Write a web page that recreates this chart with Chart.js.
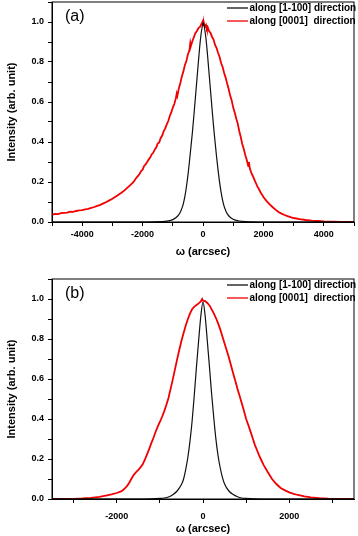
<!DOCTYPE html>
<html>
<head>
<meta charset="utf-8">
<script src="https://cdn.jsdelivr.net/npm/chart.js@4.4.1/dist/chart.umd.min.js"></script>
<style>
  html, body { margin: 0; padding: 0; background: #fff; }
  #wrap { position: relative; width: 358px; height: 536px; }
  .panel { position: absolute; left: 0; width: 358px; height: 268px; }
</style>
</head>
<body>
<div id="wrap">
  <div class="panel" style="top:0"><canvas id="chartA" width="358" height="268"></canvas></div>
  <div class="panel" style="top:268px"><canvas id="chartB" width="358" height="268"></canvas></div>
</div>
<script>
const legendLabels = ['along [1-100] direction', 'along [0001]  direction'];
const yTicks = [0, 0.1, 0.2, 0.3, 0.4, 0.5, 0.6, 0.7, 0.8, 0.9, 1.0, 1.1];

// panel (a)
const aXRange = [-5000, 5000];
const aXTicks = [-5000, -4000, -3000, -2000, -1000, 0, 1000, 2000, 3000, 4000, 5000];
const aBlackX = [-5000, -2000, -1600, -1400, -1200, -1100, -1000, -900, -800, -750, -700, -650, -600, -550, -500, -450, -400, -350, -300, -250, -200, -150, -100, -50, 0, 20, 50, 100, 150, 200, 250, 300, 350, 400, 450, 500, 550, 600, 650, 700, 750, 800, 900, 1000, 1100, 1200, 1400, 1600, 2000, 5000];
const aBlackY = [0, 0, 0.001, 0.002, 0.004, 0.007, 0.012, 0.021, 0.037, 0.05, 0.068, 0.092, 0.128, 0.175, 0.232, 0.3, 0.375, 0.45, 0.535, 0.625, 0.715, 0.805, 0.89, 0.955, 0.992, 0.995, 0.97, 0.915, 0.835, 0.745, 0.655, 0.565, 0.478, 0.4, 0.325, 0.258, 0.198, 0.148, 0.108, 0.078, 0.058, 0.042, 0.024, 0.014, 0.008, 0.005, 0.002, 0.001, 0, 0];
const aRedX = [-5000, -4900, -4800, -4700, -4600, -4500, -4400, -4300, -4200, -4100, -4000, -3900, -3800, -3700, -3600, -3500, -3400, -3300, -3200, -3100, -3000, -2900, -2800, -2700, -2600, -2500, -2400, -2300, -2200, -2100, -2050, -2000, -1950, -1900, -1850, -1800, -1750, -1700, -1650, -1600, -1550, -1500, -1450, -1400, -1350, -1300, -1250, -1200, -1150, -1100, -1050, -1000, -950, -900, -870, -850, -800, -750, -700, -650, -600, -550, -500, -450, -420, -400, -350, -300, -250, -200, -150, -100, -50, -20, 0, 30, 60, 100, 130, 160, 200, 250, 300, 350, 400, 450, 500, 550, 600, 650, 700, 750, 800, 850, 900, 950, 1000, 1050, 1100, 1150, 1200, 1250, 1300, 1350, 1400, 1450, 1500, 1520, 1550, 1600, 1650, 1700, 1750, 1800, 1850, 1900, 1950, 2000, 2100, 2200, 2300, 2400, 2500, 2600, 2700, 2800, 2900, 3000, 3200, 3400, 3600, 3800, 4000, 4300, 4600, 5000];
const aRedY = [0.037, 0.040, 0.039, 0.044, 0.046, 0.047, 0.052, 0.051, 0.055, 0.058, 0.059, 0.063, 0.066, 0.071, 0.075, 0.081, 0.086, 0.093, 0.100, 0.108, 0.116, 0.126, 0.136, 0.146, 0.158, 0.172, 0.186, 0.200, 0.222, 0.240, 0.255, 0.262, 0.280, 0.288, 0.300, 0.312, 0.322, 0.338, 0.346, 0.362, 0.372, 0.392, 0.398, 0.420, 0.432, 0.455, 0.468, 0.488, 0.505, 0.530, 0.548, 0.572, 0.590, 0.618, 0.642, 0.630, 0.668, 0.695, 0.728, 0.752, 0.785, 0.805, 0.838, 0.858, 0.895, 0.880, 0.905, 0.925, 0.945, 0.955, 0.970, 0.975, 0.990, 1.000, 0.985, 0.995, 0.975, 0.985, 0.965, 0.972, 0.955, 0.945, 0.925, 0.912, 0.885, 0.870, 0.845, 0.825, 0.795, 0.775, 0.745, 0.722, 0.692, 0.665, 0.632, 0.608, 0.572, 0.548, 0.518, 0.492, 0.455, 0.425, 0.390, 0.365, 0.335, 0.310, 0.280, 0.300, 0.268, 0.245, 0.230, 0.212, 0.195, 0.178, 0.165, 0.150, 0.138, 0.125, 0.106, 0.089, 0.075, 0.062, 0.050, 0.042, 0.035, 0.029, 0.024, 0.020, 0.014, 0.010, 0.007, 0.005, 0.003, 0.002, 0.001, 0];

// panel (b)
const bXRange = [-3500, 3500];
const bXTicks = [-3000, -2000, -1000, 0, 1000, 2000, 3000];
const bBlackX = [-3500, -1500, -1200, -1000, -900, -800, -700, -600, -500, -450, -400, -350, -300, -250, -200, -150, -100, -50, 0, 50, 100, 150, 200, 250, 300, 350, 400, 450, 500, 600, 700, 800, 900, 1000, 1200, 1500, 3500];
const bBlackY = [0, 0, 0.001, 0.003, 0.005, 0.01, 0.021, 0.04, 0.072, 0.1, 0.148, 0.21, 0.292, 0.395, 0.525, 0.665, 0.795, 0.915, 0.985, 0.915, 0.79, 0.66, 0.525, 0.405, 0.298, 0.215, 0.155, 0.108, 0.075, 0.04, 0.022, 0.011, 0.005, 0.003, 0.001, 0, 0];
const bRedX = [-3500, -3200, -3000, -2800, -2600, -2400, -2200, -2100, -2000, -1900, -1850, -1800, -1750, -1700, -1650, -1600, -1550, -1500, -1450, -1400, -1350, -1300, -1250, -1200, -1150, -1100, -1050, -1000, -950, -900, -850, -800, -750, -700, -650, -600, -550, -500, -450, -400, -350, -300, -250, -200, -150, -100, -50, -20, 0, 50, 100, 150, 200, 250, 300, 350, 400, 450, 500, 550, 600, 650, 700, 750, 800, 850, 900, 950, 1000, 1050, 1100, 1150, 1200, 1250, 1300, 1350, 1400, 1500, 1600, 1700, 1800, 1900, 2000, 2100, 2200, 2350, 2500, 2700, 2900, 3100, 3500];
const bRedY = [0, 0, 0.001, 0.003, 0.006, 0.011, 0.019, 0.024, 0.030, 0.038, 0.045, 0.055, 0.068, 0.085, 0.105, 0.122, 0.135, 0.145, 0.158, 0.172, 0.195, 0.222, 0.248, 0.278, 0.305, 0.335, 0.362, 0.385, 0.410, 0.438, 0.470, 0.505, 0.552, 0.598, 0.648, 0.698, 0.745, 0.790, 0.830, 0.868, 0.900, 0.928, 0.950, 0.962, 0.970, 0.978, 0.988, 1.000, 0.992, 0.990, 0.980, 0.968, 0.948, 0.928, 0.905, 0.878, 0.848, 0.812, 0.778, 0.742, 0.708, 0.668, 0.628, 0.590, 0.550, 0.515, 0.478, 0.440, 0.400, 0.370, 0.338, 0.305, 0.272, 0.245, 0.218, 0.195, 0.172, 0.135, 0.100, 0.075, 0.055, 0.043, 0.033, 0.026, 0.020, 0.013, 0.008, 0.004, 0.002, 0.001, 0];

const fontFamily = '"Liberation Sans", Arial, Helvetica, sans-serif';

function toPoints(xs, ys) {
  return xs.map((x, i) => ({ x: x, y: ys[i] }));
}

const framePlugin = {
  id: 'frame',
  afterDraw(chart, args, opts) {
    const { ctx, chartArea: a } = chart;
    ctx.save();
    ctx.strokeStyle = '#000';
    ctx.lineWidth = 1;
    ctx.strokeRect(a.left, a.top, a.right - a.left, a.bottom - a.top);

    ctx.fillStyle = '#000';
    ctx.font = '16px ' + fontFamily;
    ctx.textBaseline = 'middle';
    ctx.textAlign = 'left';
    ctx.fillText(opts.label, a.left + 13, a.top + 15);

    ctx.font = 'bold 10px ' + fontFamily;
    chart.data.datasets.forEach((ds, i) => {
      const y = a.top + 6 + i * 13;
      ctx.strokeStyle = ds.borderColor;
      ctx.lineWidth = 1.3;
      ctx.beginPath();
      ctx.moveTo(a.right - 127, y);
      ctx.lineTo(a.right - 106, y);
      ctx.stroke();
      ctx.fillText(ds.label, a.right - 104.5, y + 0.5);
    });
    ctx.restore();
  }
};

function makePanel(id, label, xRange, xTicks, blackX, blackY, redX, redY, padTop, xHeight, xTickPad, xTitlePad) {
  return new Chart(document.getElementById(id), {
    type: 'line',
    data: {
      datasets: [
        {
          label: legendLabels[0],
          data: toPoints(blackX, blackY),
          borderColor: '#111111',
          borderWidth: 1.2,
          pointRadius: 0,
          cubicInterpolationMode: 'monotone'
        },
        {
          label: legendLabels[1],
          data: toPoints(redX, redY),
          borderColor: '#f00000',
          borderWidth: 1.8,
          pointRadius: 0,
          tension: 0
        }
      ]
    },
    options: {
      responsive: false,
      animation: false,
      layout: { padding: { top: padTop, right: 4, left: 0, bottom: 0 } },
      plugins: {
        legend: { display: false },
        tooltip: { enabled: false },
        frame: { label: label }
      },
      scales: {
        x: {
          type: 'linear',
          min: xRange[0],
          max: xRange[1],
          border: { display: true, color: '#000', width: 1 },
          grid: { drawOnChartArea: false, drawTicks: true, tickLength: 4, color: '#000' },
          afterBuildTicks: (scale) => { scale.ticks = xTicks.map((v) => ({ value: v })); },
          ticks: {
            autoSkip: false,
            maxRotation: 0,
            padding: xTickPad,
            color: '#000',
            font: { family: fontFamily, size: 9, weight: 'bold' },
            callback: (v) => (v % 2000 === 0 && Math.abs(v) < xRange[1]) ? String(v) : ''
          },
          title: {
            display: true,
            text: 'ω (arcsec)',
            color: '#000',
            font: { family: fontFamily, size: 11, weight: 'bold' },
            padding: { top: 0, bottom: xTitlePad }
          },
          afterFit: (scale) => {
            scale.height = xHeight;
            scale.paddingLeft = 0;
            scale.paddingRight = 0;
          }
        },
        y: {
          min: yTicks[0],
          max: yTicks[yTicks.length - 1],
          border: { display: true, color: '#000', width: 1 },
          grid: { drawOnChartArea: false, drawTicks: true, tickLength: 4, color: '#000' },
          afterBuildTicks: (scale) => { scale.ticks = yTicks.map((v) => ({ value: v })); },
          ticks: {
            autoSkip: false,
            padding: 4,
            color: '#000',
            font: { family: fontFamily, size: 9, weight: 'bold' },
            callback: (v) => (Math.round(v * 10) % 2 === 0 && v < 1.05) ? v.toFixed(1) : ''
          },
          title: {
            display: true,
            text: 'Intensity (arb. unit)',
            color: '#000',
            font: { family: fontFamily, size: 11, weight: 'bold' },
            padding: { top: 5, bottom: 0 }
          },
          afterFit: (scale) => {
            scale.width = 52;
            scale.paddingTop = 0;
            scale.paddingBottom = 0;
          }
        }
      }
    },
    plugins: [framePlugin]
  });
}

makePanel('chartA', '(a)', aXRange, aXTicks, aBlackX, aBlackY, aRedX, aRedY, 2, 46, 3, 9);
makePanel('chartB', '(b)', bXRange, bXTicks, bBlackX, bBlackY, bRedX, bRedY, 11, 37, 8, 0);
</script>
</body>
</html>
